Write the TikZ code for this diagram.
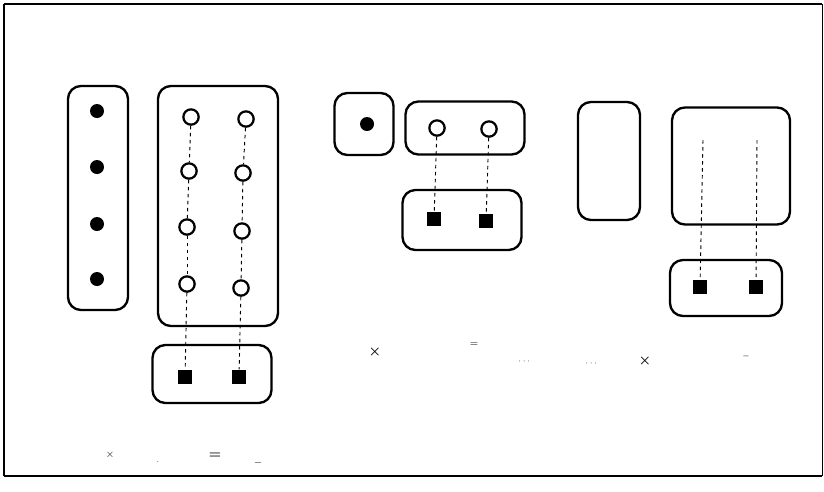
\documentclass[tikz,border=0pt]{standalone}
\usepackage{amsmath, amssymb}
\usepackage{tikz}
\usetikzlibrary{positioning}
\tikzset{
  groupbox/.style={rectangle, rounded corners=11pt, draw=black, line width=2pt,
                   inner sep=0pt},
  fulldot/.style={circle, fill=black, minimum size=0.42cm, inner sep=0pt},
  opendot/.style={circle, draw=black, line width=1.9pt, fill=white,
                  minimum size=0.46cm, inner sep=0pt},
  sqdot/.style={rectangle, fill=black, minimum size=0.44cm, inner sep=0pt},
  link/.style={line width=0.8pt, dash pattern=on 3pt off 3pt},
  marklabel/.style={font=\small, inner sep=0pt},
}

\begin{document}
\begin{tikzpicture}[x=0.03cm, y=-0.03cm]
    \useasboundingbox (0,0) rectangle (824,491);
    % frame
    \draw[line width=1.6pt] (4,4) -- (822,4);
    \draw[line width=1.6pt] (4,476) -- (822,476);
    \draw[line width=0.9pt] (4,4) -- (4,476);
    \draw[line width=0.5pt] (822,4) -- (822,476);

    % left: column of full dots
    \node[groupbox, minimum width=1.8cm, minimum height=6.72cm] (colA) at (98,198) {};
    \node[fulldot] (a1) at (97,111) {};
    \node[fulldot] (a2) at (97,167) {};
    \node[fulldot] (a3) at (97,224) {};
    \node[fulldot] (a4) at (97,279) {};

    % two columns of open dots
    \node[groupbox, minimum width=3.6cm, minimum height=7.2cm] (colB) at (218,206) {};
    \node[opendot] (b11) at (191,117) {};
    \node[opendot] (b12) at (189,171) {};
    \node[opendot] (b13) at (187,227) {};
    \node[opendot] (b14) at (187,284) {};
    \node[opendot] (b21) at (246,119) {};
    \node[opendot] (b22) at (243,173) {};
    \node[opendot] (b23) at (242,231) {};
    \node[opendot] (b24) at (241,288) {};
    \node[groupbox, minimum width=3.57cm, minimum height=1.74cm] (colC) at (212,374) {};
    \node[sqdot] (c1) at (185,377) {};
    \node[sqdot] (c2) at (239,377) {};
    \draw[link] (b11) -- (b12);
    \draw[link] (b12) -- (b13);
    \draw[link] (b13) -- (b14);
    \draw[link] (b14) -- (c1);
    \draw[link] (b21) -- (b22);
    \draw[link] (b22) -- (b23);
    \draw[link] (b23) -- (b24);
    \draw[link] (b24) -- (c2);

    % middle group
    \node[groupbox, minimum width=1.77cm, minimum height=1.86cm] (single) at (364,124) {};
    \node[fulldot] (d1) at (367,124) {};
    \node[groupbox, minimum width=3.57cm, minimum height=1.59cm] (pairE) at (465,128) {};
    \node[opendot] (e1) at (437,128) {};
    \node[opendot] (e2) at (489,129) {};
    \node[groupbox, minimum width=3.57cm, minimum height=1.8cm] (pairF) at (462,220) {};
    \node[sqdot] (f1) at (434,219) {};
    \node[sqdot] (f2) at (486,221) {};
    \draw[link] (e1) -- (f1);
    \draw[link] (e2) -- (f2);

    % right group
    \node[groupbox, minimum width=1.86cm, minimum height=3.54cm] (emptyG) at (609,161) {};
    \node[groupbox, minimum width=3.54cm, minimum height=3.51cm] (emptyH) at (731,166) {};
    \node[groupbox, minimum width=3.36cm, minimum height=1.68cm] (pairI) at (726,288) {};
    \node[sqdot] (i1) at (700,287) {};
    \node[sqdot] (i2) at (756,287) {};
    \coordinate (h1) at (703,140);
    \coordinate (h2) at (757,140);
    \draw[link] (h1) -- (i1);
    \draw[link] (h2) -- (i2);

    % marks
    \node[marklabel, font=\large] (m1) at (375,352) {$\boldsymbol{\times}$};
    \node[marklabel] (m2) at (474,345) {$=$};
    \node[marklabel, font=\scriptsize] (m3) at (525,362) {$\cdots$};
    \node[marklabel, font=\scriptsize] (m4) at (592,364) {$\cdots$};
    \node[marklabel, font=\large] (m5) at (645,361) {$\boldsymbol{\times}$};
    \node[marklabel, font=\scriptsize] (m6) at (746,356) {$-$};
    \node[marklabel] (n1) at (110,455) {$\times$};
    \node[marklabel, font=\scriptsize] (n2) at (158,462) {.};
    \node[marklabel, font=\large] (n3) at (215,456) {$\boldsymbol{=}$};
    \node[marklabel] (n4) at (258,463) {$-$};
\end{tikzpicture}
\end{document}
